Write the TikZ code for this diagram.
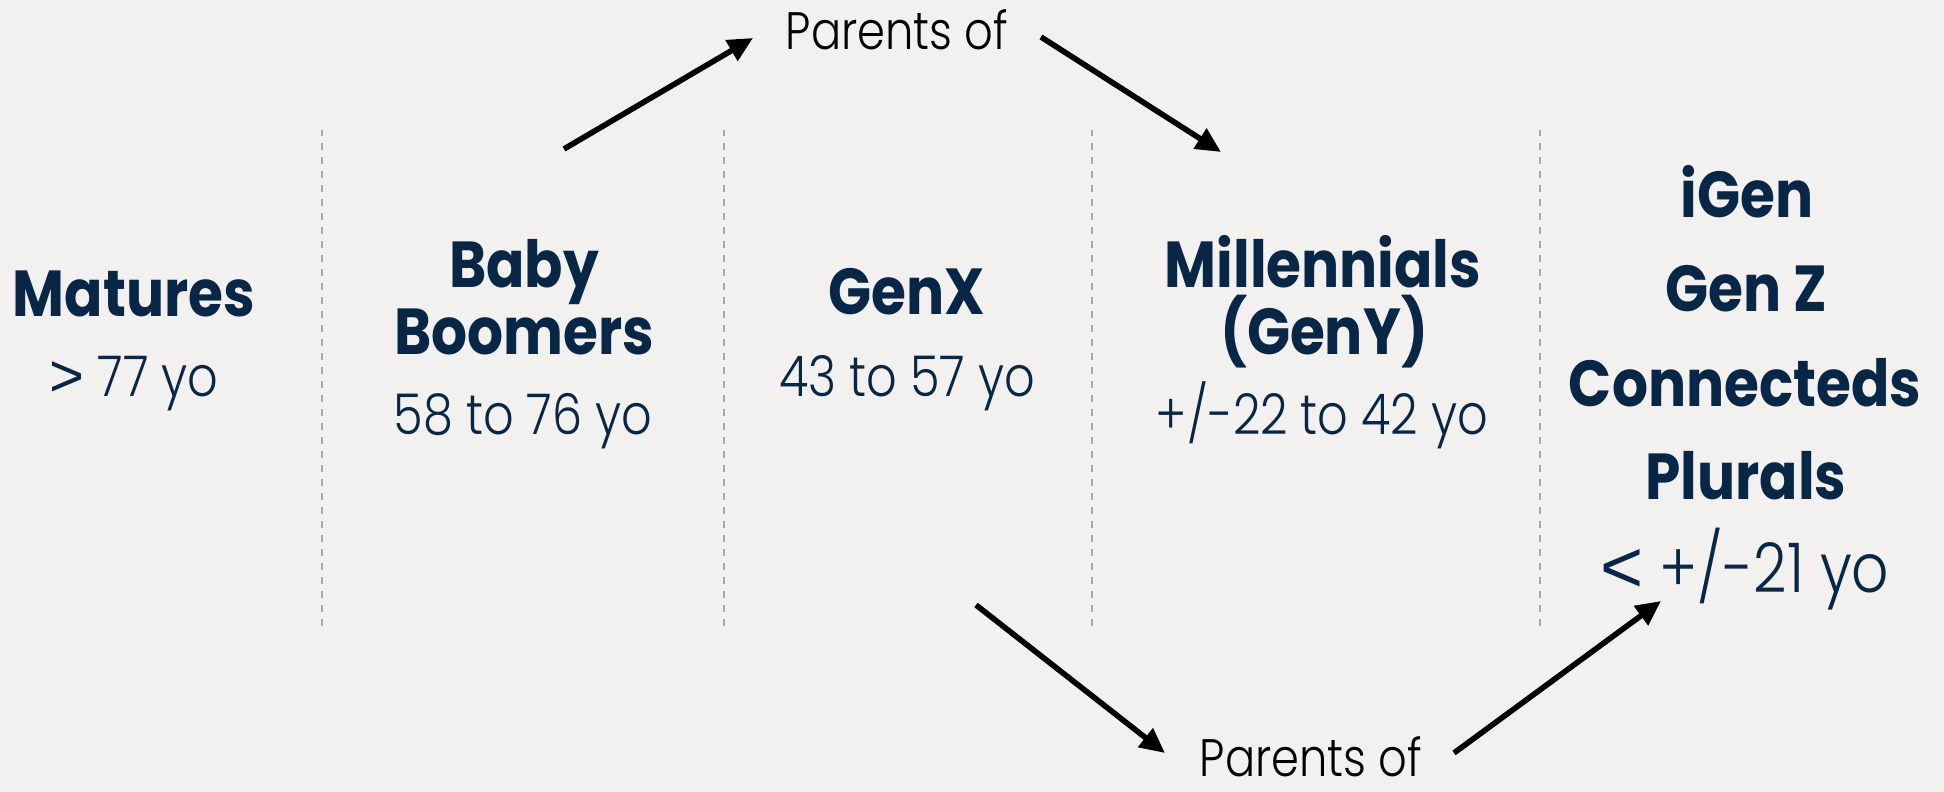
\documentclass[tikz,border=0pt]{standalone}
\usepackage{fontspec}
\setmainfont{Poppins}[FakeStretch=0.87]
\newfontfamily\agefont{Poppins Light}[FakeStretch=0.85]
\newfontfamily\symfont{Liberation Sans}
\usetikzlibrary{arrows.meta}
\definecolor{navy}{RGB}{8,38,69}
\definecolor{bgcol}{RGB}{242,241,240}
\definecolor{dashgray}{RGB}{170,170,170}
\tikzset{
  gentitle/.style={anchor=base, text=navy, font=\fontsize{18.5}{22}\selectfont\bfseries, inner sep=0pt},
  genage/.style={anchor=base, text=navy, font=\agefont\fontsize{16}{19}\selectfont, inner sep=0pt},
  bigage/.style={genage, font=\agefont\fontsize{19.5}{23}\selectfont},
  parlabel/.style={anchor=base, text=black, font=\agefont\fontsize{15}{19}\selectfont, inner sep=0pt},
  sepline/.style={draw=dashgray, dash pattern=on 0.07cm off 0.07cm, line width=0.6pt},
  arr/.style={draw=black, line width=1.6pt, -{Triangle[length=0.25cm,width=0.23cm]}}
}
\begin{document}
\begin{tikzpicture}
\fill[bgcol] (0,0) rectangle (19.44,7.92);
\useasboundingbox (0,0) rectangle (19.44,7.92);
% separators
\foreach \x in {3.22,7.24,10.92,15.40} \draw[sepline] (\x,1.66) -- (\x,6.62);
% Matures
\node[gentitle] (mat) at (1.34,4.75) {Matures};
\node[genage] (matage) at (1.34,3.95) {{\symfont\fontsize{17}{19}\selectfont >} 77 yo};
% Baby Boomers
\node[gentitle] (bb1) at (5.24,5.04) {Baby};
\node[gentitle] (bb2) at (5.24,4.37) {Boomers};
\node[genage] (bbage) at (5.23,3.57) {58 to 76 yo};
% GenX
\node[gentitle] (gx) at (9.07,4.77) {GenX};
\node[genage] (gxage) at (9.07,3.95) {43 to 57 yo};
% Millennials
\node[gentitle] (mil1) at (13.23,5.04) {Millennials};
\node[gentitle] (mil2) at (13.24,4.37) {(GenY)};
\node[genage] (milage) at (13.22,3.57) {+/-22 to 42 yo};
% iGen
\node[gentitle] (ig1) at (17.47,5.74) {iGen};
\node[gentitle] (ig2) at (17.46,4.80) {Gen Z};
\node[gentitle] (ig3) at (17.45,3.85) {Connecteds};
\node[gentitle] (ig4) at (17.46,2.92) {Plurals};
\node[bigage] (igage) at (17.45,1.99) {{\symfont\fontsize{21}{23}\selectfont <} +/-21 yo};
% Parents of
\node[parlabel] (ptop) at (8.97,7.42) {Parents of};
\node[parlabel] (pbot) at (13.11,0.15) {Parents of};
% arrow ends
\coordinate (a1s) at (5.64,6.43);
\coordinate (a1e) at (7.53,7.54);
\coordinate (a2s) at (10.41,7.55);
\coordinate (a2e) at (12.21,6.40);
\coordinate (a3s) at (9.76,1.87);
\coordinate (a3e) at (11.65,0.39);
\coordinate (a4s) at (14.54,0.39);
\coordinate (a4e) at (16.61,1.91);
\draw[arr] (a1s) -- (a1e);
\draw[arr] (a2s) -- (a2e);
\draw[arr] (a3s) -- (a3e);
\draw[arr] (a4s) -- (a4e);
\end{tikzpicture}
\end{document}
